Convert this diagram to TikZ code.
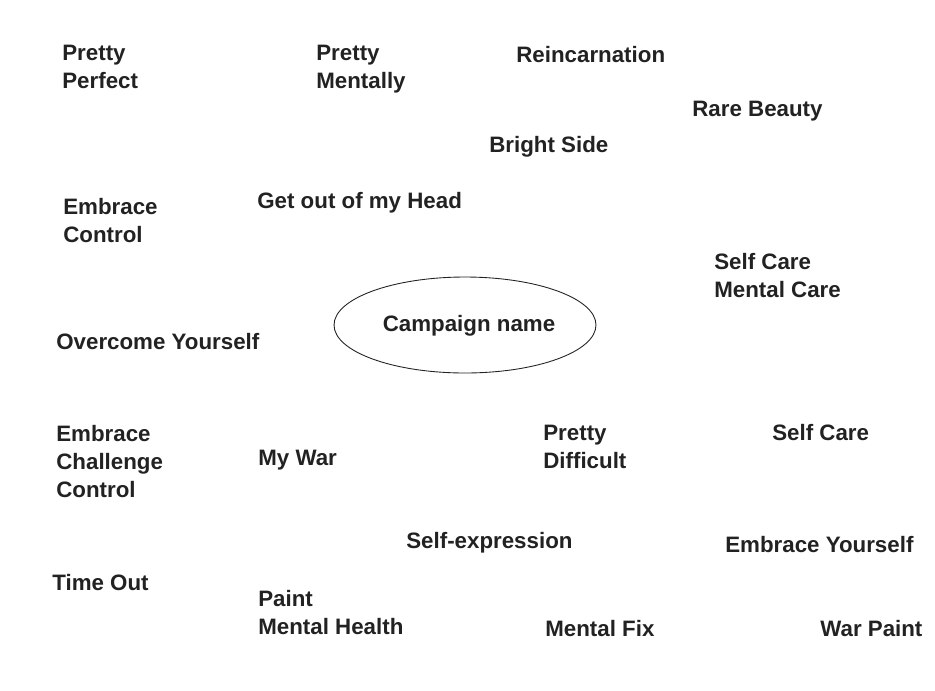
\documentclass[tikz,border=0pt]{standalone}
\usepackage{fontspec}
\setmainfont{Liberation Sans}
\usetikzlibrary{positioning,shapes.geometric}
\definecolor{ink}{RGB}{34,34,34}

\begin{document}
\begin{tikzpicture}[x=0.02cm, y=-0.02cm,
  idea/.style={anchor=base west, inner sep=0pt, align=left, text=ink,
    font=\fontsize{12.7}{15.9}\selectfont\bfseries},
  hub/.style={draw=ink, ellipse, line width=0.5pt, inner sep=0pt, minimum width=5.24cm, minimum height=1.92cm,
    text=ink, font=\fontsize{12.7}{15.9}\selectfont\bfseries}]
  \useasboundingbox (0,0) rectangle (935,690);
  % the hub, text sits a bit right of centre
  \node[hub] (campaign) at (465,325) {};
  \node[idea, anchor=base] (campaignname) at (469,331) {Campaign name};
  % names round it (base = last line)
  \node[idea] (perfect) at (62,88) {Pretty\\Perfect};
  \node[idea] (mentally) at (316,88) {Pretty\\Mentally};
  \node[idea] (reincarnation) at (516,62) {Reincarnation};
  \node[idea] (rarebeauty) at (692,116) {Rare Beauty};
  \node[idea] (brightside) at (489,152) {Bright Side};
  \node[idea] (embracecontrol) at (63,242) {Embrace\\Control};
  \node[idea] (head) at (257,208) {Get out of my Head};
  \node[idea] (mentalcare) at (714,297) {Self Care\\Mental Care};
  \node[idea] (overcome) at (56,349) {Overcome Yourself};
  \node[idea] (challenge) at (56,497) {Embrace\\Challenge\\Control};
  \node[idea] (mywar) at (258,465) {My War};
  \node[idea] (difficult) at (543,468) {Pretty\\Difficult};
  \node[idea] (selfcare) at (772,440) {Self Care};
  \node[idea] (expression) at (406,548) {Self-expression};
  \node[idea] (yourself) at (725,552) {Embrace Yourself};
  \node[idea] (timeout) at (52,590) {Time Out};
  \node[idea] (paint) at (258,634) {Paint\\Mental Health};
  \node[idea] (mentalfix) at (545,636) {Mental Fix};
  \node[idea] (warpaint) at (820,636) {War Paint};
\end{tikzpicture}
\end{document}
